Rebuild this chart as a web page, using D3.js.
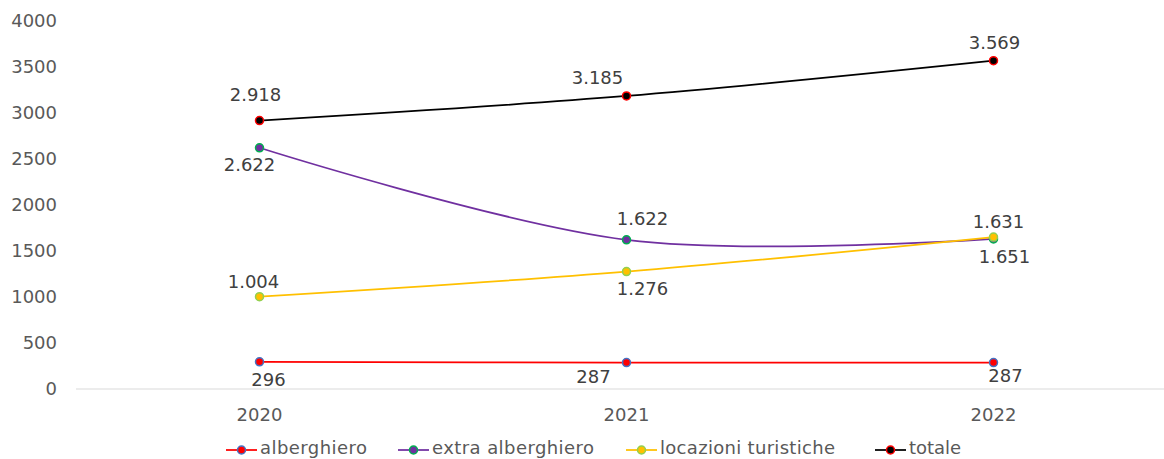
<!DOCTYPE html>
<html>
<head>
<meta charset="utf-8">
<script src="https://cdn.jsdelivr.net/npm/d3@7"></script>
<style>
  body { margin: 0; background: #fff; }
  svg { display: block; font-family: Verdana, "DejaVu Sans", sans-serif; }
  .tick-label { fill: #595959; font-size: 18px; }
  .data-label { fill: #404040; font-size: 18px; }
  .legend-label { fill: #595959; font-size: 18px; }
</style>
</head>
<body>
<svg id="chart"></svg>
<script>
// data
var years = ["2020", "2021", "2022"];
var alberghiero = [296, 287, 287];
var extraAlberghiero = [2622, 1622, 1631];
var locazioniTuristiche = [1004, 1276, 1651];
var totale = [2918, 3185, 3569];
var yTicks = [0, 500, 1000, 1500, 2000, 2500, 3000, 3500, 4000];
var seriesNames = ["alberghiero", "extra alberghiero", "locazioni turistiche", "totale"];

// where each data label sits relative to its marker (dx, dy of baseline)
var labelOffsets = {
  "alberghiero": [[9, 24], [-33, 20], [12, 19]],
  "extra alberghiero": [[-10, 23], [16, -15], [5, -11]],
  "locazioni turistiche": [[-6, -9], [16, 23], [11, 26]],
  "totale": [[-4, -20], [-29, -12], [1, -12]]
};

var styles = {
  "alberghiero": {line: "#FF0000", fill: "#FF0000", stroke: "#4472C4"},
  "extra alberghiero": {line: "#7030A0", fill: "#7030A0", stroke: "#00B050"},
  "locazioni turistiche": {line: "#FFC000", fill: "#FFC000", stroke: "#92D050"},
  "totale": {line: "#000000", fill: "#000000", stroke: "#FF0000"}
};

var series = [
  {name: seriesNames[0], values: alberghiero},
  {name: seriesNames[1], values: extraAlberghiero},
  {name: seriesNames[2], values: locazioniTuristiche},
  {name: seriesNames[3], values: totale}
];

var width = 1164, height = 459;
var svg = d3.select("#chart").attr("width", width).attr("height", height);

var x = d3.scaleBand().domain(years).range([76, 1177]);
var y = d3.scaleLinear().domain([0, 4000]).range([389, 21]);
var cx = function(d, i) { return x(years[i]) + x.bandwidth() / 2; };

// category axis line
svg.append("line")
  .attr("x1", x.range()[0]).attr("x2", x.range()[1])
  .attr("y1", y(0)).attr("y2", y(0))
  .style("stroke", "#d9d9d9").style("stroke-width", 1);

// y tick labels
svg.selectAll(".ytick").data(yTicks).enter().append("text")
  .attr("class", "tick-label")
  .attr("x", 57).attr("y", function(d) { return y(d); })
  .attr("dy", "0.35em")
  .attr("text-anchor", "end")
  .text(function(d) { return d; });

// x tick labels
svg.selectAll(".xtick").data(years).enter().append("text")
  .attr("class", "tick-label")
  .attr("x", function(d) { return x(d) + x.bandwidth() / 2; })
  .attr("y", 421)
  .attr("text-anchor", "middle")
  .text(function(d) { return d; });

var line = d3.line()
  .x(cx)
  .y(function(d) { return y(d); })
  .curve(d3.curveCatmullRom.alpha(0));

var fmt = function(v) { return d3.format(",")(v).replace(/,/g, "."); };

series.forEach(function(s) {
  var st = styles[s.name];
  svg.append("path")
    .attr("d", line(s.values))
    .style("fill", "none")
    .style("stroke", st.line)
    .style("stroke-width", 1.75);
});

series.forEach(function(s) {
  var st = styles[s.name];
  svg.selectAll(null).data(s.values).enter().append("circle")
    .attr("cx", cx)
    .attr("cy", function(d) { return y(d); })
    .attr("r", 4)
    .style("fill", st.fill)
    .style("stroke", st.stroke)
    .style("stroke-width", 1.5);
});

series.forEach(function(s) {
  var offs = labelOffsets[s.name];
  svg.selectAll(null).data(s.values).enter().append("text")
    .attr("class", "data-label")
    .attr("x", function(d, i) { return cx(d, i) + offs[i][0]; })
    .attr("y", function(d, i) { return y(d) + offs[i][1]; })
    .attr("text-anchor", "middle")
    .text(fmt);
});

// legend
var legendX = [226, 398, 626, 875];
var legend = svg.selectAll(".legend").data(seriesNames).enter().append("g")
  .attr("transform", function(d, i) { return "translate(" + legendX[i] + ",450)"; });
legend.append("line")
  .attr("x1", 0).attr("x2", 31).attr("y1", 0).attr("y2", 0)
  .style("stroke", function(d) { return styles[d].line; })
  .style("stroke-width", 1.75);
legend.append("circle")
  .attr("cx", 15.5).attr("cy", 0).attr("r", 4)
  .style("fill", function(d) { return styles[d].fill; })
  .style("stroke", function(d) { return styles[d].stroke; })
  .style("stroke-width", 1.5);
legend.append("text")
  .attr("class", "legend-label")
  .attr("x", 34).attr("y", 4)
  .attr("textLength", function(d, i) { return [107, 162, 175, 52][i]; })
  .text(function(d) { return d; });
</script>
</body>
</html>
